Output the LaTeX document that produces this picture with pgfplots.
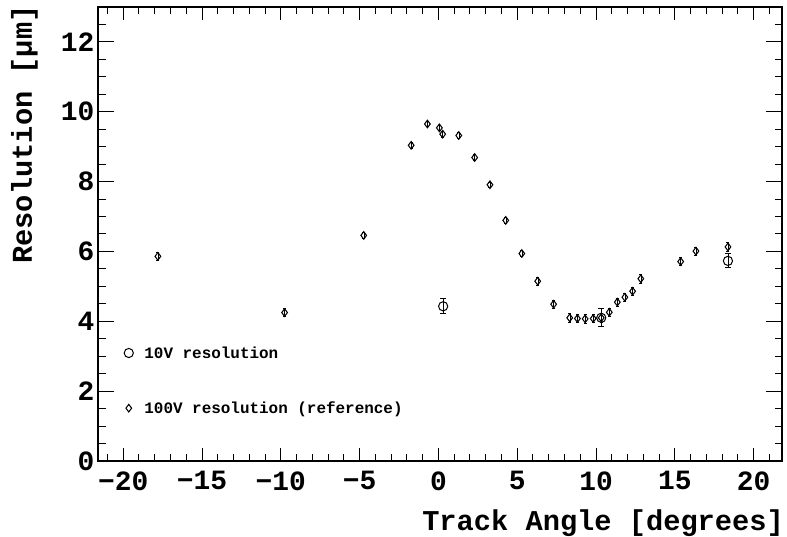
\documentclass[border=0pt]{standalone}
\usepackage{pgfplots}
\pgfplotsset{compat=1.18}
\usepackage{fontspec}
\setmainfont{Liberation Mono}
\begin{document}
\begin{tikzpicture}
\begin{axis}[name=ax,
  scale only axis, width=684bp, height=454bp,
  xmin=-21.6, xmax=21.8, ymin=0, ymax=13,
  xtick={-20,-15,...,20},
  xticklabels={−20,−15,−10,−5,0,5,10,15,20},
  ytick={0,2,...,12},
  yticklabels={0,2,4,6,8,10,12},
  minor xtick={-21,...,21},
  minor ytick={0,0.5,...,13},
  tick align=inside,
  major tick length=16bp, minor tick length=7.5bp,
  xtick style={/pgfplots/major tick length=13bp, /pgfplots/minor tick length=7bp},
  axis line style={line width=1.4bp},
  tick style={line width=1bp, black},
  ticklabel style={font=\bfseries\fontsize{28}{28}\selectfont},
  xticklabel style={yshift=-7bp},
  /pgf/number format/assume math mode=true,
  xlabel={Track Angle [degrees]},
  ylabel={Resolution [µm]},
  label style={font=\bfseries\fontsize{28.8}{29}\selectfont},
  xlabel style={at={(axis description cs:1.003,-0.152)}, anchor=base east, inner sep=0pt},
  ylabel style={at={(axis description cs:-0.0965,1.004)}, anchor=base east, inner sep=0pt},
  legend style={draw=none, fill=none, font=\bfseries\fontsize{16}{16}\selectfont,
    at={(axis description cs:0.038,0.177)}, anchor=west, row sep=38bp, inner sep=0pt},
  legend cell align=left,
]
\addplot[only marks, mark=o, mark size=4.6bp, line width=1bp, black,
  error bars/.cd, y dir=both, y explicit, error mark options={rotate=90, mark size=3bp, line width=1bp}]
  table[x=x, y=y, y error=e] {
x y e
0.30 4.43 0.21
10.33 4.10 0.26
18.37 5.73 0.20
};
\addlegendentry{\hspace{9bp}10V resolution}
\addplot[only marks, mark=diamond, mark size=3.8bp, line width=1.05bp, black,
  error bars/.cd, y dir=both, y explicit, error mark options={rotate=90, mark size=1.5bp, line width=0.8bp}]
  table[x=x, y=y, y error=e] {
x y e
-17.80 5.86 0.12
-9.76 4.25 0.12
-4.74 6.46 0.08
-1.73 9.04 0.08
-0.70 9.65 0.08
0.06 9.54 0.08
0.27 9.36 0.08
1.29 9.32 0.08
2.30 8.69 0.08
3.27 7.91 0.08
4.27 6.89 0.08
5.29 5.94 0.08
6.30 5.15 0.12
7.31 4.49 0.12
8.33 4.10 0.12
8.82 4.08 0.12
9.31 4.07 0.12
9.82 4.08 0.12
10.33 4.10 0.12
10.84 4.26 0.12
11.35 4.55 0.12
11.83 4.69 0.12
12.32 4.86 0.12
12.84 5.22 0.13
15.37 5.71 0.12
16.34 6.01 0.12
18.37 6.13 0.13
};
\addlegendentry{\hspace{9bp}100V resolution (reference)}
\end{axis}
\pgfresetboundingbox
\path (ax.south west) ++(-98bp,-76bp) rectangle ++(787bp,537bp);
\end{tikzpicture}
\end{document}
